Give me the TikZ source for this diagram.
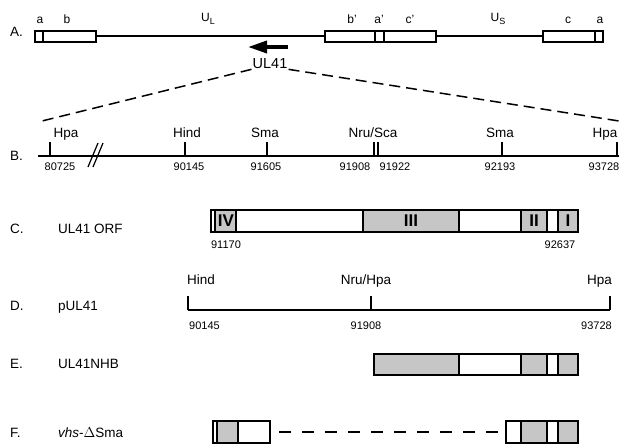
\documentclass[tikz,border=0pt]{standalone}
\usepackage{fontspec}
\setmainfont{Liberation Sans}
\usepackage{tikz}
\usetikzlibrary{arrows.meta}

\begin{document}
\begin{tikzpicture}[x=1pt,y=-1pt]

        % page frame, same size as the reference
        \useasboundingbox (0,0) rectangle (629,444);

        \tikzset{
            lbl/.style={font=\fontsize{13.5}{14}\selectfont, inner sep=0pt, anchor=base},
            num/.style={font=\fontsize{11}{12}\selectfont, inner sep=0pt, anchor=base},
            tiny/.style={font=\fontsize{12}{13}\selectfont, inner sep=0pt, anchor=base},
            romn/.style={font=\bfseries\fontsize{17}{17}\selectfont, inner sep=0pt},
            shade/.style={fill=gray!45},
            segbox/.style={draw, line width=1.2pt},
            heavy/.style={line width=1.7pt},
            zoomline/.style={line width=1.5pt, dash pattern=on 11pt off 6pt},
        }

        % row letters and construct names
        \foreach \y/\t/\n [count=\i] in {37/A./, 160/B./, 233/C./UL41 ORF,
                310/D./pUL41, 368/E./UL41NHB, 437/F./{\itshape vhs}-$\Delta$Sma}
        {
            \node[lbl, anchor=base west] (row\i) at (10,\y) {\t};
            \node[lbl, anchor=base west] (name\i) at (58,\y) {\n};
        }

        % A. genome
        \begin{scope}[heavy]
            \draw (96,36) -- (325,36);
            \draw (436,36) -- (543,36);
            \draw (35,31) rectangle (96,42);
            \draw (43,31) -- (43,42);
            \draw (325,31) rectangle (436,42);
            \draw (375,31) -- (375,42);
            \draw (384,31) -- (384,42);
            \draw (543,31) rectangle (603,42);
            \draw (595,31) -- (595,42);
        \end{scope}

        \foreach \x/\t [count=\i] in {40/a, 67/b, 352/b', 379/a', 410/c', 568/c, 600/a}
            \node[tiny] (rep\i) at (\x,24) {\t};
        \node[tiny] (UL) at (208,22)
            {U\raisebox{-2.5pt}{\fontsize{9}{9}\selectfont L}};
        \node[tiny] (US) at (498,22)
            {U\raisebox{-2.5pt}{\fontsize{9}{9}\selectfont S}};

        \coordinate (ar1) at (288,47);
        \coordinate (ar2) at (248,47);
        \draw[line width=3.5pt, -{Triangle[length=19pt,width=12pt]}] (ar1) -- (ar2);
        \node[font=\fontsize{14.5}{15}\selectfont, inner sep=1pt, anchor=base]
            (ul41) at (270,68) {UL41};

        % zoom into the UL41 region
        \coordinate (zl) at (42,121);
        \coordinate (zr) at (619,121);
        \draw[zoomline] (ul41.south west) -- (zl);
        \draw[zoomline] (ul41.south east) -- (zr);

        % B. restriction map
        \coordinate (b0) at (38,156);
        \coordinate (b1) at (619,156);
        \draw[heavy] (b0) -- (b1);
        \foreach \x in {50,185,267,374,378,502,617}
            \draw[heavy] (\x,156) -- (\x,142);
        \draw[line width=1.2pt] (88,167) -- (98,143);
        \draw[line width=1.2pt] (93,167) -- (103,143);

        \foreach \x/\t [count=\i] in {66/Hpa, 187/Hind, 265/Sma, 373/{Nru/Sca},
                500/Sma, 605/Hpa}
            \node[lbl] (site\i) at (\x,137) {\t};
        \foreach \x/\t [count=\i] in {60/80725, 189/90145, 266/91605, 355/91908,
                395/91922, 500/92193, 604/93728}
            \node[num] (pos\i) at (\x,170) {\t};

        % C. open reading frame
        \foreach \a/\b in {215/236, 363/459, 521/547, 558/578}
            \fill[shade] (\a,210) rectangle (\b,232);
        \draw[segbox] (211,210) rectangle (578,232);
        \foreach \x in {215,236,363,459,521,547,558}
            \draw[segbox] (\x,210) -- (\x,232);
        \foreach \x/\t in {226/IV, 411/III, 534/II, 568/I}
            \node[romn] (dom\t) at (\x,221) {\t};
        \node[num] (orf1) at (226,248) {91170};
        \node[num] (orf2) at (560,248) {92637};

        % D. plasmid insert
        \draw[heavy] (188,310) -- (610,310);
        \foreach \x in {188,371,610}
            \draw[heavy] (\x,310) -- (\x,296);
        \node[lbl, anchor=base west] (dh1) at (187,284) {Hind};
        \node[lbl] (dh2) at (366,284) {Nru/Hpa};
        \node[lbl, anchor=base east] (dh3) at (612,284) {Hpa};
        \node[num, anchor=base west] (dn1) at (189,329) {90145};
        \node[num] (dn2) at (366,329) {91908};
        \node[num, anchor=base east] (dn3) at (612,329) {93728};

        % E. UL41NHB
        \foreach \a/\b in {374/459, 521/547, 558/578}
            \fill[shade] (\a,354) rectangle (\b,375);
        \draw[segbox] (374,354) rectangle (578,375);
        \foreach \x in {459,521,547,558}
            \draw[segbox] (\x,354) -- (\x,375);

        % F. vhs-deltaSma
        \fill[shade] (217,421) rectangle (238,443);
        \draw[segbox] (213,421) rectangle (270,443);
        \foreach \x in {217,238}
            \draw[segbox] (\x,421) -- (\x,443);
        \foreach \a/\b in {521/547, 558/578}
            \fill[shade] (\a,421) rectangle (\b,443);
        \draw[segbox] (506,421) rectangle (578,443);
        \foreach \x in {521,547,558}
            \draw[segbox] (\x,421) -- (\x,443);
        \coordinate (del1) at (279,432);
        \coordinate (del2) at (504,432);
        \draw[line width=1.3pt, dash pattern=on 12pt off 11pt] (del1) -- (del2);

\end{tikzpicture}
\end{document}
